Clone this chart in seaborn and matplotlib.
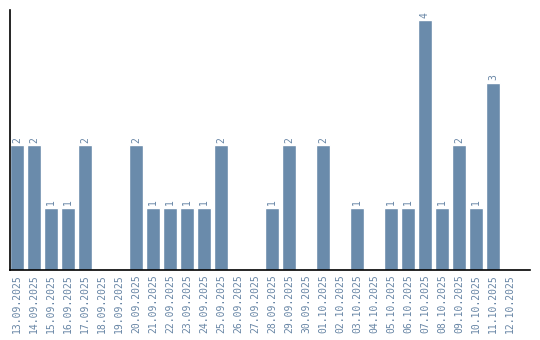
import matplotlib
matplotlib.use("Agg")
import matplotlib.pyplot as plt
import seaborn as sns
import pandas as pd

dates = ["13.09.2025", "14.09.2025", "15.09.2025", "16.09.2025", "17.09.2025",
         "18.09.2025", "19.09.2025", "20.09.2025", "21.09.2025", "22.09.2025",
         "23.09.2025", "24.09.2025", "25.09.2025", "26.09.2025", "27.09.2025",
         "28.09.2025", "29.09.2025", "30.09.2025", "01.10.2025", "02.10.2025",
         "03.10.2025", "04.10.2025", "05.10.2025", "06.10.2025", "07.10.2025",
         "08.10.2025", "09.10.2025", "10.10.2025", "11.10.2025", "12.10.2025"]
counts = [2, 2, 1, 1, 2, 0, 0, 2, 1, 1, 1, 1, 2, 0, 0, 1, 2, 0, 2, 0,
          1, 0, 1, 1, 4, 1, 2, 1, 3, 0]

bar_color = "#6a8bab"
text_color = "#6785a5"

sns.set_style("white")
plt.rcParams["font.family"] = ["DejaVu Sans Mono", "DejaVu Sans"]

df = pd.DataFrame({"date": dates, "count": counts})

fig = plt.figure(figsize=(5.4, 3.4), dpi=100)
ax = fig.add_axes([10/540, 70/340, 520/540, 260/340])
sns.barplot(data=df, x="date", y="count", color=bar_color, saturation=1,
            width=0.82, ax=ax, order=dates)

for i, v in enumerate(counts):
    if v > 0:
        ax.text(i, v + 0.04, str(v), rotation=90, ha="center", va="bottom",
                fontsize=7, color=text_color)

ax.set_xlim(-0.41, 30.18)
ax.set_ylim(0, 4.16)
ax.set_xlabel("")
ax.set_ylabel("")
ax.set_yticks([])
ax.tick_params(axis="x", length=0, pad=3, labelsize=7, labelcolor=text_color)
plt.setp(ax.get_xticklabels(), rotation=90)
for s in ["top", "right"]:
    ax.spines[s].set_visible(False)
for s in ["left", "bottom"]:
    ax.spines[s].set_color("black")
    ax.spines[s].set_linewidth(1.2)

fig.savefig("out.png", dpi=100)
